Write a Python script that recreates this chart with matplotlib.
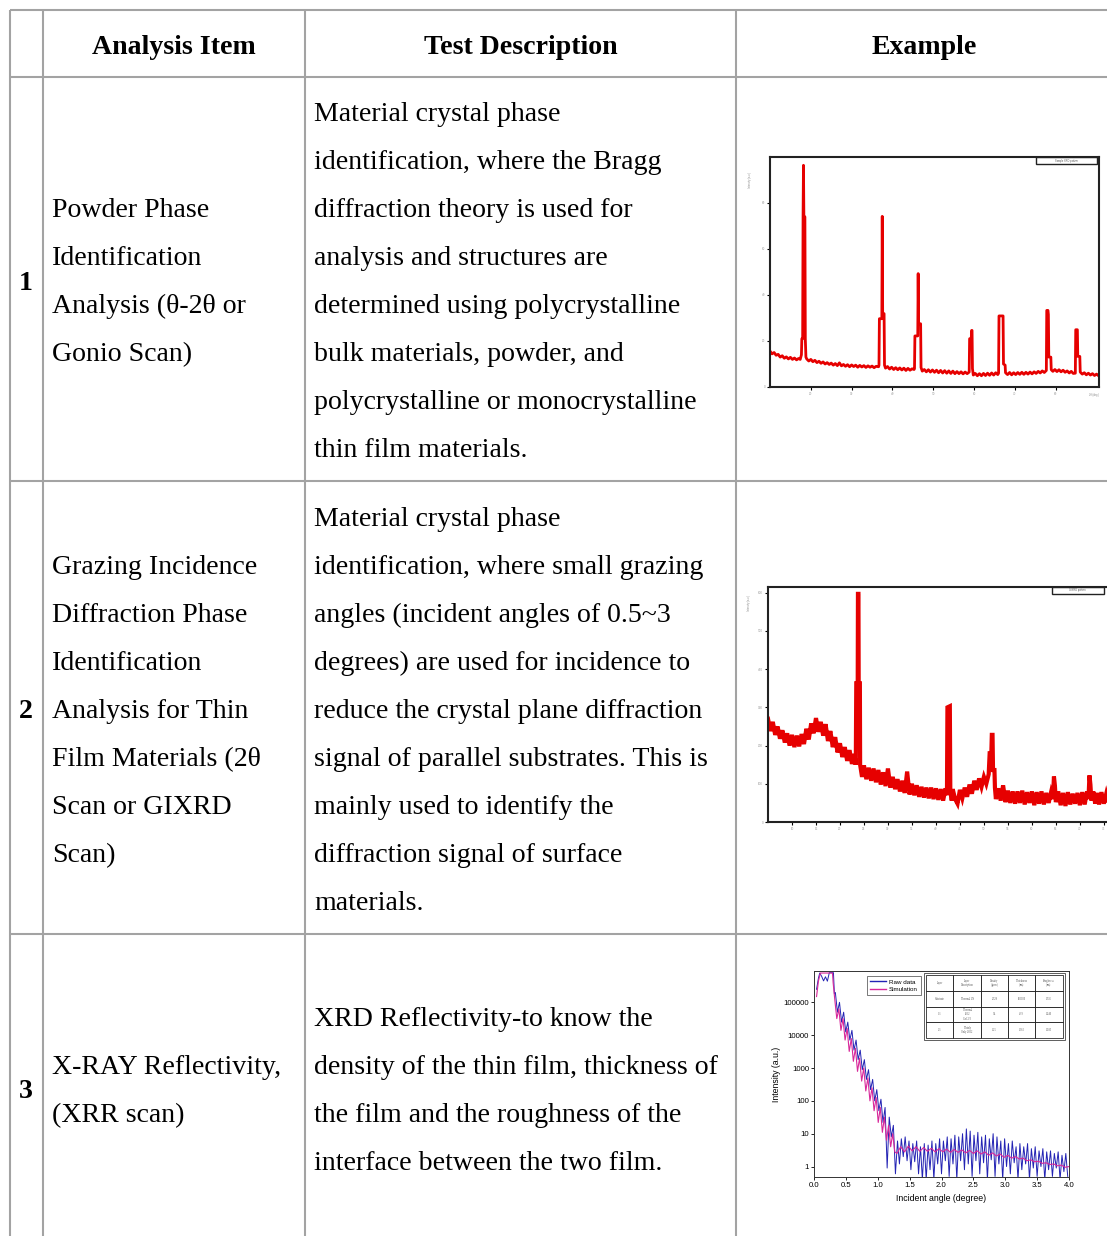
import matplotlib
matplotlib.use("Agg")
import matplotlib.pyplot as plt
from matplotlib.patches import Rectangle

W, H = 1107, 1236

# ---- table text ----
headers = ["Analysis Item", "Test Description", "Example"]
row_numbers = ["1", "2", "3"]
items = [
    ["Powder Phase", "Identification", "Analysis (\u03b8-2\u03b8 or", "Gonio Scan)"],
    ["Grazing Incidence", "Diffraction Phase", "Identification", "Analysis for Thin",
     "Film Materials (2\u03b8", "Scan or GIXRD", "Scan)"],
    ["X-RAY Reflectivity,", "(XRR scan)"],
]
descriptions = [
    ["Material crystal phase", "identification, where the Bragg", "diffraction theory is used for",
     "analysis and structures are", "determined using polycrystalline", "bulk materials, powder, and",
     "polycrystalline or monocrystalline", "thin film materials."],
    ["Material crystal phase", "identification, where small grazing", "angles (incident angles of 0.5~3",
     "degrees) are used for incidence to", "reduce the crystal plane diffraction",
     "signal of parallel substrates. This is", "mainly used to identify the",
     "diffraction signal of surface", "materials."],
    ["XRD Reflectivity-to know the", "density of the thin film, thickness of",
     "the film and the roughness of the", "interface between the two film."],
]

# ---- example 1: powder XRD (2theta, intensity) ----
powder_scan = [
    (10.0, 15.6), (10.5, 14.4), (11.0, 15.0), (11.5, 13.8), (12.0, 14.2), (12.5, 13.0), (13.0, 13.6),
    (13.5, 12.5), (14.0, 13.1), (14.5, 12.2), (15.0, 12.9), (15.5, 12.0), (16.0, 12.6), (16.5, 11.8),
    (17.0, 12.4), (17.4, 12.0), (17.7, 14.0), (17.8, 21.0), (18.0, 21.0), (18.1, 74.0), (18.2, 96.4),
    (18.3, 74.0), (18.55, 74.0), (18.65, 21.0), (18.8, 13.0), (19.0, 12.2), (19.5, 11.3), (20.0, 12.0),
    (20.5, 11.0), (21.0, 11.6), (21.5, 10.6), (22.0, 11.2), (22.5, 10.3), (23.0, 10.9), (23.5, 10.0),
    (24.0, 10.6), (24.5, 9.8), (25.0, 10.4), (25.5, 9.5), (26.0, 10.2), (26.5, 9.3), (27.0, 10.5),
    (27.5, 9.2), (28.0, 9.8), (28.5, 9.0), (29.0, 9.7), (29.5, 8.8), (30.0, 9.6), (30.5, 8.9),
    (31.0, 9.5), (31.5, 8.6), (32.0, 9.4), (32.5, 8.7), (33.0, 9.3), (33.5, 8.5), (34.0, 9.2),
    (34.5, 8.6), (35.0, 9.1), (35.5, 8.4), (36.0, 9.0), (36.6, 8.8), (36.7, 9.5), (36.8, 29.7),
    (37.4, 29.7), (37.5, 74.2), (37.6, 31.9), (37.95, 31.9), (38.05, 9.5), (38.3, 8.2), (38.8, 8.9),
    (39.3, 7.8), (39.8, 8.6), (40.3, 7.6), (40.8, 8.4), (41.3, 7.5), (41.8, 8.3), (42.3, 7.4),
    (42.8, 8.2), (43.3, 7.2), (43.8, 8.1), (44.3, 7.3), (44.8, 7.9), (45.3, 7.6), (45.4, 8.0),
    (45.5, 22.2), (46.2, 22.2), (46.3, 49.3), (46.4, 27.5), (46.9, 27.5), (47.0, 8.5), (47.3, 6.9),
    (47.8, 7.6), (48.3, 6.6), (48.8, 7.5), (49.3, 6.5), (49.8, 7.4), (50.3, 6.4), (50.8, 7.3),
    (51.3, 6.2), (51.8, 7.2), (52.3, 6.1), (52.8, 7.1), (53.3, 6.0), (53.8, 7.0), (54.3, 5.9),
    (54.8, 6.9), (55.3, 5.8), (55.8, 6.7), (56.3, 5.8), (56.8, 6.6), (57.3, 5.7), (57.8, 6.5),
    (58.3, 5.8), (58.8, 6.5), (58.9, 21.0), (59.3, 21.0), (59.4, 24.6), (59.5, 24.6), (59.6, 8.0),
    (59.8, 5.2), (60.3, 5.9), (60.8, 4.9), (61.3, 5.8), (61.8, 4.9), (62.3, 5.9), (62.8, 5.0),
    (63.3, 6.0), (63.8, 5.1), (64.3, 6.1), (64.8, 5.2), (65.3, 6.2), (65.8, 5.4), (66.0, 6.0),
    (66.1, 30.9), (67.1, 30.9), (67.2, 10.0), (67.6, 9.5), (67.7, 6.2), (68.2, 5.4), (68.7, 6.3),
    (69.2, 5.3), (69.7, 6.2), (70.2, 5.4), (70.7, 6.3), (71.2, 5.5), (71.7, 6.4), (72.2, 5.5),
    (72.7, 6.4), (73.2, 5.6), (73.7, 6.5), (74.2, 5.7), (74.7, 6.6), (75.2, 5.9), (75.7, 6.8),
    (76.2, 6.1), (76.7, 7.0), (77.2, 6.3), (77.7, 7.2), (77.8, 33.3), (78.1, 33.3), (78.2, 31.5),
    (78.3, 13.0), (78.8, 13.0), (78.9, 7.5), (79.3, 6.8), (79.8, 7.6), (80.3, 6.7), (80.8, 7.5),
    (81.3, 6.6), (81.8, 7.3), (82.3, 6.4), (82.8, 7.0), (83.3, 6.1), (83.8, 6.8), (84.3, 5.9),
    (84.8, 6.0), (84.9, 24.9), (85.3, 24.9), (85.4, 13.3), (85.9, 13.3), (86.0, 6.5), (86.5, 5.6),
    (87.0, 6.2), (87.5, 5.3), (88.0, 6.0), (88.5, 5.2), (89.0, 5.8), (89.5, 5.0), (90.0, 5.6),
    (90.5, 4.9),
]
powder_xticks = [20, 30, 40, 50, 60, 70, 80]
powder_yticks = [0, 20, 40, 60, 80]

# ---- example 2: GIXRD (2theta, intensity) ----
gixrd_scan = [
    (5.0, 270), (5.5, 238), (6.0, 262), (6.5, 228), (7.0, 250), (7.5, 218), (8.0, 240), (8.5, 208),
    (9.0, 232), (9.5, 200), (10.0, 228), (10.5, 196), (11.0, 226), (11.5, 198), (12.0, 230),
    (12.5, 204), (13.0, 244), (13.5, 216), (14.0, 258), (14.5, 232), (15.0, 272), (15.5, 236),
    (16.0, 262), (16.5, 226), (17.0, 256), (17.5, 212), (18.0, 238), (18.5, 196), (19.0, 222),
    (19.5, 182), (20.0, 206), (20.5, 170), (21.0, 196), (21.5, 160), (22.0, 188), (22.5, 152),
    (23.0, 178), (23.3, 150), (23.4, 363), (23.7, 363), (23.75, 597), (23.85, 597), (23.9, 363),
    (24.15, 363), (24.2, 150), (24.6, 118), (25.0, 148), (25.5, 112), (26.0, 142), (26.5, 108),
    (27.0, 140), (27.5, 104), (28.0, 136), (28.5, 98), (29.0, 130), (29.5, 94), (30.0, 140),
    (30.5, 90), (31.0, 118), (31.5, 86), (32.0, 112), (32.5, 80), (33.0, 108), (33.5, 76),
    (34.0, 132), (34.5, 72), (35.0, 100), (35.5, 70), (36.0, 96), (36.5, 66), (37.0, 92),
    (37.5, 64), (38.0, 90), (38.5, 62), (39.0, 90), (39.5, 60), (40.0, 88), (40.5, 58), (41.0, 86),
    (41.5, 56), (42.0, 88), (42.3, 70), (42.4, 300), (42.9, 303), (43.0, 80), (43.3, 56),
    (43.5, 86), (44.0, 60), (44.5, 48), (45.0, 84), (45.5, 62), (46.0, 90), (46.5, 66), (47.0, 98),
    (47.5, 74), (48.0, 108), (48.5, 84), (49.0, 114), (49.5, 92), (50.0, 118), (50.5, 100),
    (51.0, 125), (51.2, 180), (51.55, 180), (51.65, 228), (51.8, 228), (51.9, 136), (52.2, 136),
    (52.3, 90), (52.5, 60), (53.0, 88), (53.5, 56), (54.0, 96), (54.5, 52), (55.0, 82), (55.5, 50),
    (56.0, 80), (56.5, 48), (57.0, 80), (57.5, 50), (58.0, 82), (58.5, 46), (59.0, 78), (59.5, 50),
    (60.0, 80), (60.5, 44), (61.0, 78), (61.5, 48), (62.0, 80), (62.5, 46), (63.0, 76), (63.5, 50),
    (64.0, 78), (64.4, 60), (64.6, 119), (64.8, 95), (65.0, 52), (65.5, 80), (66.0, 44), (66.5, 76),
    (67.0, 42), (67.5, 78), (68.0, 46), (68.5, 74), (69.0, 48), (69.5, 76), (70.0, 44), (70.5, 78),
    (71.0, 46), (71.5, 80), (71.8, 60), (72.0, 122), (72.2, 98), (72.4, 56), (72.8, 80), (73.2, 48),
    (73.6, 76), (74.0, 46), (74.5, 78), (75.0, 48), (75.5, 74), (76.0, 50), (76.5, 72), (77.0, 48),
]
gixrd_xticks = [10, 15, 20, 25, 30, 35, 40, 45, 50, 55, 60, 65, 70, 75]
gixrd_yticks = [0, 100, 200, 300, 400, 500, 600]

# ---- example 3: XRR (incident angle, intensity) ----
xrr_raw = [
    (0.04, 2.5e5), (0.07, 5.5e5), (0.09, 7.8e5), (0.12, 6.2e5), (0.15, 4.5e5), (0.18, 6.0e5),
    (0.21, 4.4e5), (0.24, 8.0e5), (0.29, 8.0e5), (0.305, 8.0e5), (0.32, 1.8e5),
    (0.335, 2.0e5), (0.3675, 5.0e4), (0.40, 1.0e5), (0.4325, 2.5e4), (0.465, 5.0e4), (0.4975, 1.26e4),
    (0.53, 2.5e4), (0.5625, 7.1e3), (0.595, 1.4e4), (0.6275, 3.5e3), (0.66, 7.1e3), (0.6925, 1.8e3),
    (0.725, 3.5e3), (0.7575, 890), (0.79, 1.8e3), (0.8225, 450), (0.855, 890), (0.8875, 220),
    (0.92, 450), (0.9525, 100), (0.985, 220), (1.0175, 50), (1.05, 112), (1.0825, 22), (1.115, 63),
    (1.1475, 0.9), (1.18, 32), (1.2125, 8), (1.245, 18), (1.2775, 0.6),
    (1.31, 6), (1.34, 1.2), (1.37, 7), (1.40, 2), (1.43, 8), (1.46, 1.5), (1.49, 6), (1.52, 0.8),
    (1.55, 5), (1.58, 1.4), (1.61, 6), (1.64, 0.6), (1.67, 4), (1.70, 0.4), (1.73, 5), (1.76, 0.4),
    (1.79, 4.5), (1.82, 0.8), (1.85, 6), (1.88, 0.4), (1.91, 5), (1.94, 1.2), (1.97, 7), (2.00, 0.6),
    (2.03, 6), (2.06, 1.5), (2.09, 8), (2.12, 0.5), (2.15, 7), (2.18, 1.2), (2.21, 9), (2.24, 0.4),
    (2.27, 8), (2.30, 1.5), (2.33, 10), (2.36, 0.8), (2.39, 14), (2.42, 1.2), (2.45, 12), (2.48, 0.5),
    (2.51, 9), (2.54, 1.5), (2.57, 11), (2.60, 0.6), (2.63, 8), (2.66, 1.3), (2.69, 9), (2.72, 0.4),
    (2.75, 7), (2.78, 1.6), (2.81, 10), (2.84, 0.5), (2.87, 8), (2.90, 1.2), (2.93, 6), (2.96, 0.4),
    (2.99, 7), (3.02, 1.0), (3.05, 5), (3.08, 0.6), (3.11, 6), (3.14, 1.3), (3.17, 4), (3.20, 0.4),
    (3.23, 5), (3.26, 0.8), (3.29, 4), (3.32, 1.2), (3.35, 5), (3.38, 0.4), (3.41, 3.5), (3.44, 0.9),
    (3.47, 4), (3.50, 0.5), (3.53, 3), (3.56, 1.0), (3.59, 3.5), (3.62, 0.4), (3.65, 2.8), (3.68, 0.8),
    (3.71, 3), (3.74, 0.5), (3.77, 2.5), (3.80, 0.9), (3.83, 2.8), (3.86, 0.4), (3.89, 2.2),
    (3.92, 0.7), (3.95, 2.5), (3.98, 0.5),
]
xrr_sim = [
    (0.04, 1.5e5), (0.07, 4.5e5), (0.10, 7.8e5), (0.29, 7.8e5), (0.30, 4.0e5),
    (0.325, 1.26e5), (0.3575, 3.2e4), (0.39, 6.3e4), (0.4225, 1.4e4), (0.455, 3.2e4), (0.4875, 7.1e3),
    (0.52, 1.6e4), (0.5525, 3.2e3), (0.585, 7.9e3), (0.6175, 1.6e3), (0.65, 4.0e3), (0.6825, 790),
    (0.715, 2.0e3), (0.7475, 400), (0.78, 1.0e3), (0.8125, 200), (0.845, 500), (0.8775, 100),
    (0.91, 250), (0.9425, 50), (0.975, 126), (1.0075, 22), (1.04, 63), (1.0725, 11), (1.105, 32),
    (1.1375, 6.3), (1.17, 18), (1.2025, 4.0), (1.235, 10), (1.2675, 2.8),
    (1.30, 2.5), (1.36, 4.0), (1.42, 2.8), (1.48, 4.2), (1.54, 3.0), (1.60, 4.0), (1.66, 2.9),
    (1.72, 3.8), (1.78, 2.9), (1.84, 3.6), (1.90, 2.8), (1.96, 3.5), (2.02, 2.8), (2.08, 3.4),
    (2.14, 2.7), (2.20, 3.3), (2.26, 2.7), (2.32, 3.2), (2.38, 2.6), (2.44, 3.1), (2.50, 2.5),
    (2.56, 3.0), (2.62, 2.4), (2.68, 2.8), (2.74, 2.2), (2.80, 2.6), (2.86, 2.1), (2.92, 2.4),
    (2.98, 1.9), (3.04, 2.2), (3.10, 1.8), (3.16, 2.0), (3.22, 1.7), (3.28, 1.8), (3.34, 1.5),
    (3.40, 1.6), (3.46, 1.4), (3.52, 1.45), (3.58, 1.25), (3.64, 1.3), (3.70, 1.15), (3.76, 1.2),
    (3.82, 1.05), (3.88, 1.1), (3.94, 0.95), (4.00, 1.0),
]
xrr_xticks = [0.0, 0.5, 1.0, 1.5, 2.0, 2.5, 3.0, 3.5, 4.0]
xrr_yticks = [1, 10, 100, 1000, 10000, 100000]
xrr_ytick_labels = ["1", "10", "100", "1000", "10000", "100000"]
layer_cols = ["Layer", "Layer\nDescription", "Density\n(g/cm\u00b3)", "Thickness\n(nm)", "Roughness\n(nm)"]
layer_rows = [
    ["Substrate", "Thermal LN", "2.328", "600000", "0.335"],
    ["1-1", "Thermal\nSiO2\nGel 2/3", "3.4", "42.9", "0.240"],
    ["2-1", "Thinly\nOnly 2602", "1.25", "1.362", "0.185"],
]

# ---- layout (pixels) ----
col_x = [10, 43, 305, 736, 1112]
row_y = [10, 77, 481, 934, 1240]
line_step = 48

plt.rcParams['font.family'] = ['Liberation Serif', 'DejaVu Serif']
fig = plt.figure(figsize=(W / 100, H / 100), dpi=100)
bg = fig.add_axes([0, 0, 1, 1])
bg.set_xlim(0, W)
bg.set_ylim(H, 0)
bg.axis('off')

grid_col = '#a3a3a3'
for x in col_x:
    bg.plot([x, x], [row_y[0], row_y[-1]], color=grid_col, lw=1.5, solid_capstyle='butt')
for y in row_y:
    bg.plot([col_x[0], col_x[-1]], [y, y], color=grid_col, lw=1.5, solid_capstyle='butt')

fs = 20.1
head_centers = [(col_x[1] + col_x[2]) / 2, (col_x[2] + col_x[3]) / 2, (col_x[3] + col_x[4]) / 2]
for hx, label in zip(head_centers, headers):
    bg.text(hx, 54, label, ha='center', va='baseline', fontsize=fs, fontweight='bold')

number_base = [290, 718, 1098]
item_base = [217, 574, 1074]
desc_base = [121, 526, 1026]
for i in range(3):
    bg.text(26, number_base[i], row_numbers[i], ha='center', va='baseline', fontsize=fs, fontweight='bold')
    for k, line in enumerate(items[i]):
        bg.text(52, item_base[i] + k * line_step, line, ha='left', va='baseline', fontsize=fs)
    for k, line in enumerate(descriptions[i]):
        bg.text(314, desc_base[i] + k * line_step, line, ha='left', va='baseline', fontsize=fs)


def px_axes(x0, y0, x1, y1):
    return fig.add_axes([x0 / W, 1 - y1 / H, (x1 - x0) / W, (y1 - y0) / H])


def xrd_frame(ax, xticks, yticks):
    for s in ax.spines.values():
        s.set_linewidth(1.5)
        s.set_color('#222222')
    ax.set_xticks(xticks)
    ax.set_yticks(yticks)
    ax.tick_params(direction='out', length=2, width=0.8, labelsize=2.2,
                   labelcolor='#9a9a9a', pad=1.5)
    for lab in ax.get_xticklabels() + ax.get_yticklabels():
        lab.set_family(['Liberation Sans'])


# example 1
ax1 = px_axes(770, 157, 1099, 387)
tt, cnt = zip(*powder_scan)
ax1.plot(tt, cnt, color='#e60000', lw=2.0)
ax1.set_xlim(10, 90.6)
ax1.set_ylim(0, 100)
xrd_frame(ax1, powder_xticks, powder_yticks)
ax1.add_patch(Rectangle((0.81, 0.968), 0.185, 0.032, transform=ax1.transAxes,
                        fill=False, ec='#222222', lw=1.0, clip_on=False))
ax1.text(0.9, 0.984, 'Sample XRD pattern', transform=ax1.transAxes, fontsize=1.8,
         ha='center', va='center', color='#555555', family=['Liberation Sans'])
ax1.text(-0.06, 0.9, 'Intensity (a.u.)', transform=ax1.transAxes, fontsize=1.8, rotation=90,
         ha='center', va='center', color='#888888', family=['Liberation Sans'])
ax1.text(0.985, -0.035, '2\u03b8 (deg.)', transform=ax1.transAxes, fontsize=1.8,
         ha='center', va='center', color='#888888', family=['Liberation Sans'])

# example 2
ax2 = px_axes(768, 587, 1112, 822)
tt, cnt = zip(*gixrd_scan)
ax2.plot(tt, cnt, color='#e60000', lw=3.0, solid_joinstyle='miter')
ax2.set_xlim(5, 76.7)
ax2.set_ylim(0, 615)
xrd_frame(ax2, gixrd_xticks, gixrd_yticks)
ax2.add_patch(Rectangle((0.826, 0.972), 0.15, 0.028, transform=ax2.transAxes,
                        fill=False, ec='#222222', lw=1.0, clip_on=False))
ax2.text(0.9, 0.986, 'GIXRD pattern', transform=ax2.transAxes, fontsize=1.8,
         ha='center', va='center', color='#555555', family=['Liberation Sans'])
ax2.text(-0.055, 0.93, 'Intensity (a.u.)', transform=ax2.transAxes, fontsize=1.8, rotation=90,
         ha='center', va='center', color='#888888', family=['Liberation Sans'])

# example 3
ax3 = px_axes(814, 971, 1069, 1177)
ang, inten = zip(*xrr_raw)
ax3.plot(ang, inten, color='#2323b4', lw=0.7, label='Raw data')
ang, inten = zip(*xrr_sim)
ax3.plot(ang, inten, color='#d8289a', lw=0.8, label='Simulation')
ax3.set_yscale('log')
ax3.set_xlim(0, 4.0)
ax3.set_ylim(0.48, 9e5)
ax3.set_xticks(xrr_xticks)
ax3.set_xticklabels([f"{v:.1f}" for v in xrr_xticks])
ax3.set_yticks(xrr_yticks)
ax3.set_yticklabels(xrr_ytick_labels)
ax3.minorticks_off()
for s in ax3.spines.values():
    s.set_linewidth(0.7)
    s.set_color('#333333')
ax3.tick_params(direction='out', length=2, width=0.6, labelsize=5.6, pad=1.5)
for lab in ax3.get_xticklabels() + ax3.get_yticklabels():
    lab.set_family(['Liberation Sans'])
ax3.set_xlabel('Incident angle (degree)', fontsize=6.3, family=['Liberation Sans'], labelpad=3.5)
ax3.set_ylabel('Intensity (a.u.)', fontsize=6.3, family=['Liberation Sans'], labelpad=2)
leg = ax3.legend(loc='upper left', bbox_to_anchor=(0.196, 0.99), frameon=True,
                 fancybox=False, edgecolor='#444444', framealpha=1, handlelength=2.6,
                 labelspacing=0.3, borderpad=0.5, handletextpad=0.4,
                 prop={'family': ['Liberation Sans'], 'size': 4.5})
leg.get_frame().set_linewidth(0.5)
for h in leg.get_lines():
    h.set_linewidth(1.0)
tbl = ax3.table(cellText=layer_rows, colLabels=layer_cols, cellLoc='center',
                bbox=[0.44, 0.675, 0.535, 0.305])
tbl.auto_set_font_size(False)
for cell in tbl.get_celld().values():
    cell.set_linewidth(0.5)
    cell.get_text().set_fontsize(1.9)
    cell.get_text().set_color('#555555')
ax3.add_patch(Rectangle((0.432, 0.665), 0.551, 0.325, transform=ax3.transAxes,
                        fill=False, ec='#444444', lw=0.6))

fig.savefig('out.png', dpi=100)
